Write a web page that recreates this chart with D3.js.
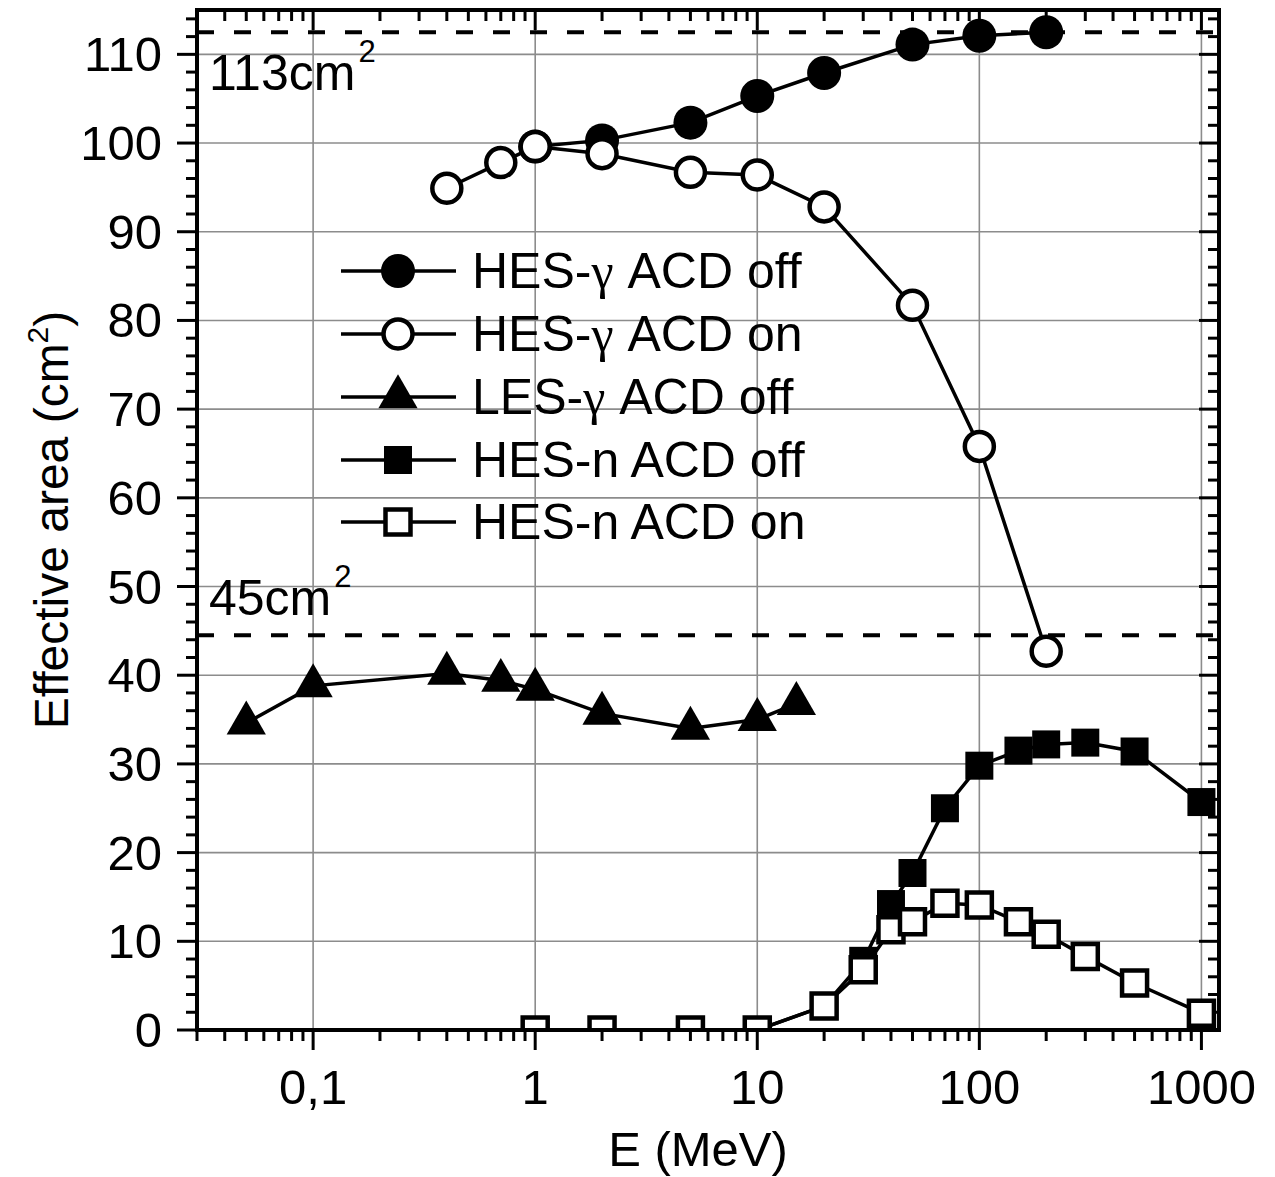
<!DOCTYPE html>
<html><head><meta charset="utf-8">
<script src="https://cdn.jsdelivr.net/npm/d3@7"></script>
<style>
html,body{margin:0;padding:0;background:#fff;}
text{font-family:"Liberation Sans",Arial,sans-serif;fill:#000;}
</style></head>
<body><svg id="chart" width="1275" height="1177"></svg>
<script>
// ---- data ----
const energiesGammaOff = [1, 2, 5, 10, 20, 50, 100, 200];
const hesGammaOff = [99.6, 100.3, 102.3, 105.3, 107.9, 111.1, 112.1, 112.5];
const energiesGammaOn = [0.4, 0.7, 1, 2, 5, 10, 20, 50, 100, 200];
const hesGammaOn = [94.9, 97.8, 99.6, 98.8, 96.7, 96.4, 92.8, 81.7, 65.8, 42.7];
const energiesLes = [0.05, 0.1, 0.4, 0.7, 1, 2, 5, 10, 15];
const lesGammaOff = [34.6, 38.8, 40.2, 39.4, 38.4, 35.7, 34.0, 35.0, 36.8];
const energiesN = [1, 2, 5, 10, 20, 30, 40, 50, 70, 100, 150, 200, 300, 500, 1000];
const hesNOff = [0, 0, 0, 0, 2.7, 7.8, 14.2, 17.7, 25.0, 29.8, 31.5, 32.2, 32.4, 31.4, 25.7];
const hesNOn = [0, 0, 0, 0, 2.7, 6.8, 11.3, 12.2, 14.3, 14.1, 12.2, 10.8, 8.3, 5.3, 1.9];
const seriesNames = ["HES-γ ACD off", "HES-γ ACD on", "LES-γ ACD off", "HES-n ACD off", "HES-n ACD on"];
const xTickValues = [0.1, 1, 10, 100, 1000];
const xTickLabels = ["0,1", "1", "10", "100", "1000"];
const yTickValues = [0, 10, 20, 30, 40, 50, 60, 70, 80, 90, 100, 110];
const refLevels = [112.5, 44.5];
const refLabels = ["113cm", "45cm"];

// ---- layout ----
const L = 197, R = 1219, T = 10, B = 1030;
const x = d3.scaleLog().domain([0.03, 1200]).range([L, R]);
const y = d3.scaleLinear().domain([0, 115]).range([B, T]);
const svg = d3.select("#chart");

svg.append("defs").append("clipPath").attr("id", "clip")
  .append("rect").attr("x", L).attr("y", T).attr("width", R - L).attr("height", B - T);

// minor ticks on log axis
const minorX = [];
for (let e = -2; e <= 3; e++) for (let m = 1; m <= 9; m++) {
  const v = m * Math.pow(10, e);
  if (v >= 0.03 && v <= 1200) minorX.push(v);
}
const minorY = d3.range(0, 116, 2);

// grid
const grid = svg.append("g").attr("stroke", "#8c8c8c").attr("stroke-width", 1.6);
xTickValues.forEach(v => grid.append("line").attr("x1", x(v)).attr("x2", x(v)).attr("y1", T).attr("y2", B));
yTickValues.filter(v => v > 0).forEach(v => grid.append("line").attr("x1", L).attr("x2", R).attr("y1", y(v)).attr("y2", y(v)));

// reference dashed lines
refLevels.forEach(v => svg.append("line").attr("x1", L).attr("x2", R).attr("y1", y(v)).attr("y2", y(v))
  .attr("stroke", "#000").attr("stroke-width", 4).attr("stroke-dasharray", "17,20"));

// axes ticks
const ax = svg.append("g").attr("stroke", "#000").attr("stroke-width", 3);
minorX.forEach(v => {
  const major = xTickValues.includes(v);
  const len = major ? 20 : 11;
  ax.append("line").attr("x1", x(v)).attr("x2", x(v)).attr("y1", B).attr("y2", B + len);
  ax.append("line").attr("x1", x(v)).attr("x2", x(v)).attr("y1", T).attr("y2", T + len);
});
minorY.forEach(v => {
  const major = v % 10 === 0;
  const len = major ? 20 : 11;
  ax.append("line").attr("x1", L).attr("x2", L - len).attr("y1", y(v)).attr("y2", y(v));
  ax.append("line").attr("x1", R).attr("x2", R - len).attr("y1", y(v)).attr("y2", y(v));
});

// tick labels
xTickValues.forEach((v, i) => svg.append("text").attr("x", x(v)).attr("y", 1104)
  .attr("text-anchor", "middle").attr("font-size", 49).text(xTickLabels[i]));
yTickValues.forEach(v => svg.append("text").attr("x", 162).attr("y", y(v) + 17)
  .attr("text-anchor", "end").attr("font-size", 49).text(v));

// axis titles
svg.append("text").attr("x", 698).attr("y", 1166).attr("text-anchor", "middle").attr("font-size", 49).text("E (MeV)");
const yt = svg.append("text").attr("transform", "translate(68,520) rotate(-90)").attr("text-anchor", "middle").attr("font-size", 48);
yt.append("tspan").text("Effective area (cm");
yt.append("tspan").attr("font-size", 30).attr("dy", -20).text("2");
yt.append("tspan").attr("dy", 20).text(")");

// ref labels
const refLabelY = [90, 615];
refLabels.forEach((s, i) => {
  const t = svg.append("text").attr("x", 209).attr("y", refLabelY[i]).attr("font-size", 50);
  t.append("tspan").text(s);
  t.append("tspan").attr("font-size", 31).attr("dx", 3).attr("dy", -28).text("2");
});

// series
const symCircleF = d3.symbol().type(d3.symbolCircle).size(Math.PI * 17 * 17);
const symCircleO = d3.symbol().type(d3.symbolCircle).size(Math.PI * 14.5 * 14.5);
const symTri = d3.symbol().type(d3.symbolTriangle).size(667);
const symSqF = d3.symbol().type(d3.symbolSquare).size(28 * 28);
const symSqO = d3.symbol().type(d3.symbolSquare).size(25 * 25);

const series = [
  {xs: energiesGammaOff, ys: hesGammaOff, sym: symCircleF, fill: "#000"},
  {xs: energiesGammaOn, ys: hesGammaOn, sym: symCircleO, fill: "#fff"},
  {xs: energiesLes, ys: lesGammaOff, sym: symTri, fill: "#000"},
  {xs: energiesN, ys: hesNOff, sym: symSqF, fill: "#000"},
  {xs: energiesN, ys: hesNOn, sym: symSqO, fill: "#fff"}
];
const plot = svg.append("g").attr("clip-path", "url(#clip)");
const line = d3.line().x(d => x(d[0])).y(d => y(d[1]));
series.forEach(s => {
  const pts = s.xs.map((v, i) => [v, s.ys[i]]);
  const g = plot.append("g");
  g.append("path").attr("d", line(pts)).attr("fill", "none").attr("stroke", "#000").attr("stroke-width", 3.5);
  g.selectAll("path.m").data(pts).enter().append("path").attr("class", "m")
    .attr("d", s.sym).attr("transform", d => `translate(${x(d[0])},${y(d[1])})`)
    .attr("fill", s.fill).attr("stroke", "#000").attr("stroke-width", s.fill === "#fff" ? 4.5 : 0);
});

// frame
svg.append("rect").attr("x", L).attr("y", T).attr("width", R - L).attr("height", B - T)
  .attr("fill", "none").attr("stroke", "#000").attr("stroke-width", 4);

// legend
const legendY = [271, 334, 397, 460, 522];
series.forEach((s, i) => {
  const g = svg.append("g");
  g.append("line").attr("x1", 341).attr("x2", 456).attr("y1", legendY[i]).attr("y2", legendY[i])
    .attr("stroke", "#000").attr("stroke-width", 3.5);
  g.append("path").attr("d", s.sym).attr("transform", `translate(398,${legendY[i]})`)
    .attr("fill", s.fill).attr("stroke", "#000").attr("stroke-width", s.fill === "#fff" ? 4.5 : 0);
  const t = g.append("text").attr("x", 472).attr("y", legendY[i] + 17).attr("font-size", 50);
  const parts = seriesNames[i].split("γ");
  t.append("tspan").text(parts[0]);
  if (parts.length > 1) {
    t.append("tspan").attr("font-family", "'Liberation Serif','DejaVu Serif',serif").text("γ");
    t.append("tspan").text(parts[1]);
  }
});
</script>
</body></html>
